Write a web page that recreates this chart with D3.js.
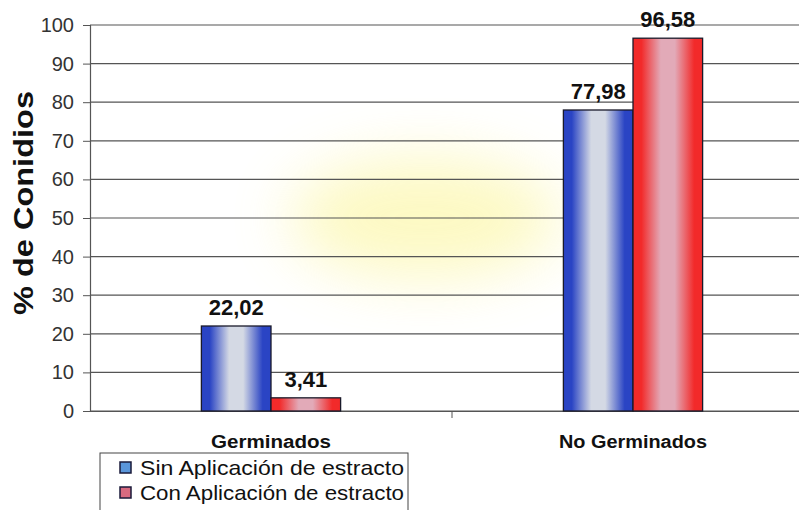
<!DOCTYPE html>
<html>
<head>
<meta charset="utf-8">
<script src="https://cdn.jsdelivr.net/npm/d3@7"></script>
<style>
  html, body { margin: 0; padding: 0; background: #fff; }
  svg { display: block; font-family: "Liberation Sans", Arial, sans-serif; }
</style>
</head>
<body>
<svg id="chart" width="799" height="510"></svg>
<script>
// Categories, series and values
const categories = ["Germinados", "No Germinados"];
const seriesNames = ["Sin Aplicación de estracto", "Con Aplicación de estracto"];
const sinValues = [22.02, 77.98];
const conValues = [3.41, 96.58];
const valueLabels = [["22,02", "77,98"], ["3,41", "96,58"]];
const yTicks = [0, 10, 20, 30, 40, 50, 60, 70, 80, 90, 100];

const svg = d3.select("#chart");
const margin = { left: 90, top: 25, bottom: 411, right: 814 };

const x = d3.scaleBand().domain(categories).range([margin.left, margin.right]).paddingInner(0).paddingOuter(0);
const xs = d3.scaleBand().domain([0, 1]).range([0, x.bandwidth()]).paddingInner(0).paddingOuter(1.6);
const y = d3.scaleLinear().domain([0, 100]).range([margin.bottom, margin.top]);

const defs = svg.append("defs");
function barGradient(id, edge, mid) {
  const g = defs.append("linearGradient").attr("id", id).attr("x1", "0").attr("x2", "1").attr("y1", "0").attr("y2", "0");
  g.append("stop").attr("offset", "0%").attr("stop-color", edge);
  g.append("stop").attr("offset", "12%").attr("stop-color", edge);
  g.append("stop").attr("offset", "40%").attr("stop-color", mid);
  g.append("stop").attr("offset", "60%").attr("stop-color", mid);
  g.append("stop").attr("offset", "88%").attr("stop-color", edge);
  g.append("stop").attr("offset", "100%").attr("stop-color", edge);
}
barGradient("gBlue", "#2a44c4", "#d4d9e4");
barGradient("gRed", "#f22a2a", "#e2aab8");
const blur = defs.append("filter").attr("id", "haze").attr("x", "-50%").attr("y", "-50%").attr("width", "200%").attr("height", "200%");
blur.append("feGaussianBlur").attr("stdDeviation", 30);

// faint yellow tint in the middle of the plot
svg.append("ellipse")
  .attr("cx", 425).attr("cy", 218).attr("rx", 135).attr("ry", 60)
  .attr("fill", "#faf27a").attr("opacity", 0.45).attr("filter", "url(#haze)");

// gridlines
svg.append("g").selectAll("line").data(yTicks).join("line")
  .attr("x1", margin.left).attr("x2", 799)
  .attr("y1", d => y(d)).attr("y2", d => y(d))
  .attr("stroke", "#555").attr("stroke-width", 1.2);

// y axis
const yAxis = svg.append("g").attr("transform", `translate(${margin.left},0)`)
  .call(d3.axisLeft(y).tickValues(yTicks).tickSize(7).tickPadding(9).tickFormat(d3.format("d")));
yAxis.select(".domain").attr("stroke", "#555").attr("stroke-width", 1.2);
yAxis.selectAll(".tick line").attr("stroke", "#555");
yAxis.selectAll("text").attr("font-size", 20).attr("fill", "#333")
  .attr("font-family", "'Liberation Sans', Arial, sans-serif");

// x axis
const xAxis = svg.append("g").attr("transform", `translate(0,${margin.bottom})`)
  .call(d3.axisBottom(x).tickSize(0).tickPadding(24));
xAxis.select(".domain").attr("stroke", "#555").attr("stroke-width", 1.2);
const catWidths = [120, 148];
xAxis.selectAll("text").attr("font-size", 18).attr("font-weight", "bold").attr("fill", "#111")
  .attr("font-family", "'Liberation Sans', Arial, sans-serif")
  .attr("textLength", (d, i) => catWidths[i]).attr("lengthAdjust", "spacingAndGlyphs");
// separator tick between categories
svg.append("line")
  .attr("x1", x(categories[1])).attr("x2", x(categories[1]))
  .attr("y1", margin.bottom).attr("y2", margin.bottom + 7)
  .attr("stroke", "#555");

// bars
const series = [sinValues, conValues];
const fills = ["url(#gBlue)", "url(#gRed)"];
series.forEach((vals, si) => {
  svg.append("g").selectAll("rect").data(categories).join("rect")
    .attr("x", (c) => x(c) + xs(si))
    .attr("width", xs.bandwidth())
    .attr("y", (c, i) => y(vals[i]))
    .attr("height", (c, i) => y(0) - y(vals[i]))
    .attr("fill", fills[si])
    .attr("stroke", "#1a1a2a").attr("stroke-width", 1.3);
  svg.append("g").selectAll("text").data(categories).join("text")
    .attr("x", (c) => x(c) + xs(si) + xs.bandwidth() / 2)
    .attr("y", (c, i) => y(vals[i]) - 11)
    .attr("text-anchor", "middle")
    .attr("font-size", 22).attr("font-weight", "bold").attr("fill", "#111")
    .text((c, i) => valueLabels[si][i]);
});

// y axis title
svg.append("text")
  .attr("transform", `translate(33,${(margin.top + margin.bottom) / 2 - 15}) rotate(-90)`)
  .attr("text-anchor", "middle")
  .attr("font-size", 27).attr("font-weight", "bold").attr("fill", "#111")
  .attr("textLength", 224).attr("lengthAdjust", "spacingAndGlyphs")
  .text("% de Conidios");

// legend
const legend = svg.append("g").attr("transform", "translate(100,453)");
legend.append("rect").attr("x", 0).attr("y", 0).attr("width", 308).attr("height", 62)
  .attr("fill", "#fff").attr("stroke", "#444").attr("stroke-width", 1);
const swatchFills = ["#5a96da", "#d86a80"];
seriesNames.forEach((name, i) => {
  const row = legend.append("g").attr("transform", `translate(20,${15 + i * 25})`);
  row.append("rect").attr("x", 0).attr("y", -6).attr("width", 11).attr("height", 11)
    .attr("fill", swatchFills[i]).attr("stroke", "#1a1a3a").attr("stroke-width", 1.5);
  row.append("text").attr("x", 20).attr("y", 0).attr("dy", "0.35em")
    .attr("font-size", 21).attr("fill", "#111")
    .attr("textLength", 264).attr("lengthAdjust", "spacingAndGlyphs")
    .text(name);
});
</script>
</body>
</html>
